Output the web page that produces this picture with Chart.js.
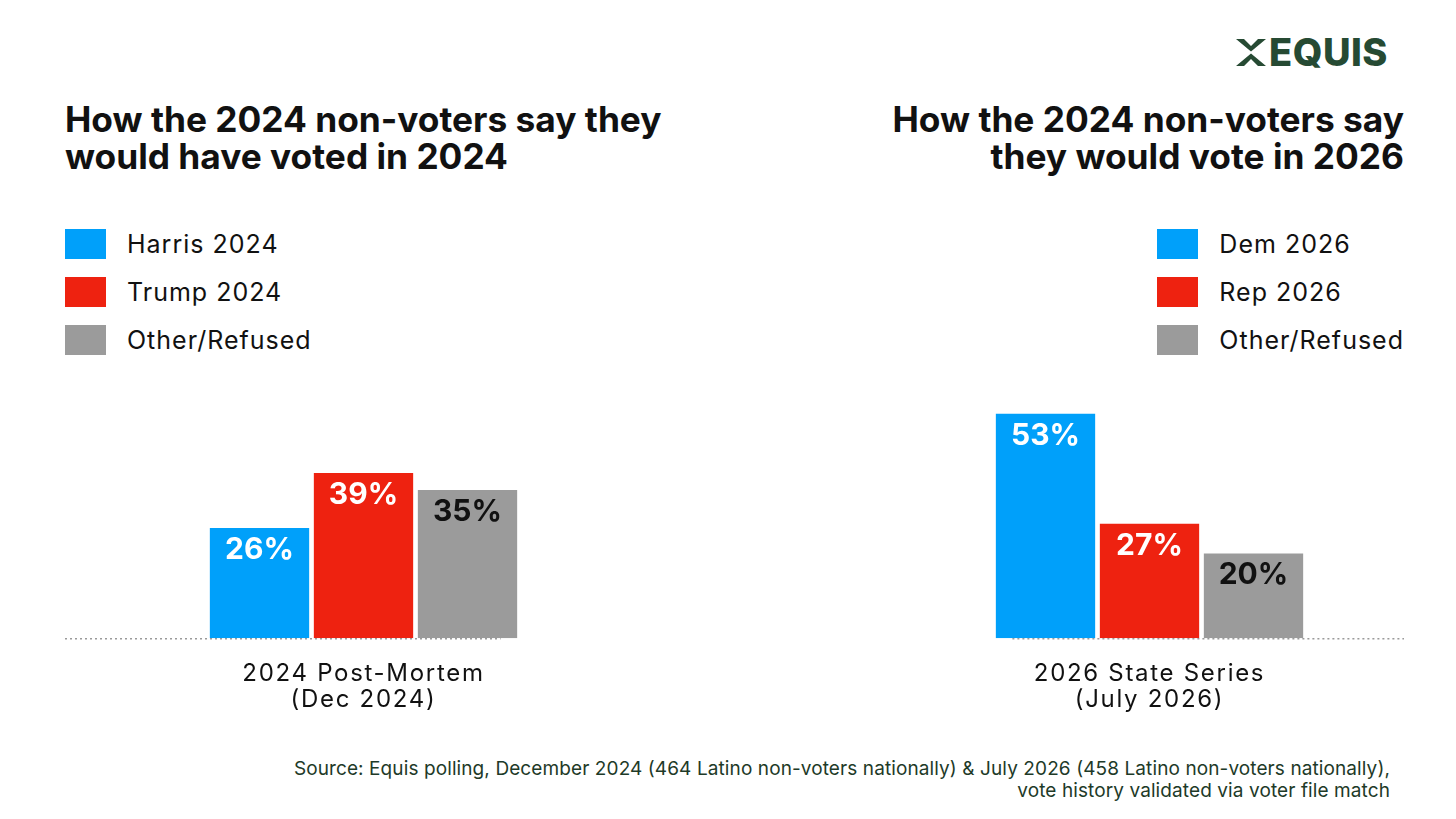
<!DOCTYPE html>
<html>
<head>
<meta charset="utf-8">
<script src="https://cdn.jsdelivr.net/npm/chart.js@4/dist/chart.umd.min.js"></script>
<style>
  html,body{margin:0;padding:0;background:#fff;}
  body{width:1456px;height:819px;position:relative;overflow:hidden;font-family:Inter,"Noto Sans",sans-serif;color:#111;}
  .title{position:absolute;top:101px;font-weight:700;font-size:35.3px;line-height:37px;letter-spacing:0;color:#111;white-space:nowrap;}
  .legend{position:absolute;top:229px;}
  .legend .row{height:48px;display:flex;align-items:flex-start;}
  .legend .sw{width:41px;height:30px;margin-right:21px;}
  .legend .lab{font-size:25px;line-height:30px;letter-spacing:1px;color:#111;white-space:nowrap;}
  .source{position:absolute;right:66px;top:758px;font-size:19px;line-height:22px;text-align:right;color:#1e3a28;letter-spacing:0.1px;white-space:nowrap;}
  .logo{position:absolute;left:1236px;top:33px;display:flex;align-items:center;color:#264a33;}
  .logo span{font-weight:800;font-size:38px;letter-spacing:0.5px;margin-left:3px;line-height:38px;}
  canvas{position:absolute;}
</style>
</head>
<body>
<div class="logo">
  <svg width="30" height="27" viewBox="0 0 30 27"><polygon points="0,0 8,0 15,7 22,0 30,0 15,12.5" fill="#264a33"/><polygon points="0,27 8,27 15,20 22,27 30,27 15,14.5" fill="#264a33"/></svg>
  <span>EQUIS</span>
</div>
<div class="title" id="tL" style="left:65px;"></div>
<div class="title" id="tR" style="right:52px;text-align:right;"></div>
<div class="legend" id="lgL" style="left:65px;"></div>
<div class="legend" id="lgR" style="right:52px;"></div>
<div style="position:absolute;left:65px;top:384px;width:597px;height:343px;"><canvas id="cL"></canvas></div>
<div style="position:absolute;left:895px;top:384px;width:509px;height:343px;"><canvas id="cR"></canvas></div>
<div class="source" id="src"></div>
<script>
// ---- data ----
const leftTitle = ["How the 2024 non-voters say they", "would have voted in 2024"];
const rightTitle = ["How the 2024 non-voters say", "they would vote in 2026"];
const leftCategories = [["2024 Post-Mortem", "(Dec 2024)"]];
const leftSeries = ["Harris 2024", "Trump 2024", "Other/Refused"];
const leftValues = [26, 39, 35];
const rightCategories = [["2026 State Series", "(July 2026)"]];
const rightSeries = ["Dem 2026", "Rep 2026", "Other/Refused"];
const rightValues = [53, 27, 20];
const sourceLines = ["Source: Equis polling, December 2024 (464 Latino non-voters nationally) & July 2026 (458 Latino non-voters nationally),", "vote history validated via voter file match"];

// ---- styles ----
const barColors = ["#00A0FA", "#EE2210", "#9B9B9B"];
const labelColors = ["#ffffff", "#ffffff", "#111111"];

document.getElementById('tL').innerHTML = leftTitle.join('<br>');
document.getElementById('tR').innerHTML = rightTitle.join('<br>');
document.getElementById('src').innerHTML = sourceLines.join('<br>');
function legend(id, names){
  const el = document.getElementById(id);
  names.forEach((n,i)=>{
    const r = document.createElement('div'); r.className='row';
    r.innerHTML = '<div class="sw" style="background:'+barColors[i]+'"></div><div class="lab">'+n+'</div>';
    el.appendChild(r);
  });
}
legend('lgL', leftSeries);
legend('lgR', rightSeries);

const spacing = {
  id:'spacing',
  beforeDraw(chart){ chart.ctx.letterSpacing = '1.7px'; }
};
const valueLabels = {
  id:'valueLabels',
  afterDatasetsDraw(chart){
    const ctx = chart.ctx;
    ctx.save();
    ctx.letterSpacing = '0px';
    ctx.font = '700 30px Inter, "Noto Sans", sans-serif';
    ctx.textAlign = 'center';
    ctx.textBaseline = 'middle';
    chart.data.datasets.forEach((ds,i)=>{
      const meta = chart.getDatasetMeta(i);
      meta.data.forEach((bar,j)=>{
        ctx.fillStyle = labelColors[i];
        ctx.fillText(ds.data[j] + '%', bar.x, bar.y + 22);
      });
    });
    ctx.restore();
  }
};
function baselinePlugin(side){
  return {
    id:'baseline',
    afterDatasetsDraw(chart){
      const ctx = chart.ctx, ca = chart.chartArea;
      const y0 = chart.scales.y.getPixelForValue(0);
      const metas = chart.data.datasets.map((d,i)=>chart.getDatasetMeta(i).data[0]);
      let x1, x2;
      if (side==='left'){ x1 = ca.left; const b = metas[metas.length-1]; x2 = b.x + b.width/3; }
      else { const b = metas[0]; x1 = b.x - b.width/3; x2 = ca.right; }
      ctx.save();
      ctx.strokeStyle = '#9a9a9a';
      ctx.lineWidth = 1.5;
      ctx.setLineDash([2,3]);
      ctx.beginPath();
      ctx.moveTo(x1, y0+0.5); ctx.lineTo(x2, y0+0.5);
      ctx.stroke();
      ctx.restore();
    }
  };
}
function makeChart(id, cats, names, vals, catPct, side){
  return new Chart(document.getElementById(id), {
    type:'bar',
    data:{
      labels: cats,
      datasets: names.map((n,i)=>({label:n, data:[vals[i]], backgroundColor:barColors[i], borderWidth:0}))
    },
    options:{
      responsive:true, maintainAspectRatio:false, animation:false,
      categoryPercentage: catPct, barPercentage: 0.955,
      layout:{padding:0},
      plugins:{legend:{display:false}, tooltip:{enabled:false}, title:{display:false}},
      scales:{
        x:{grid:{display:false}, border:{display:false},
           ticks:{color:'#111', padding:14, font:{family:'Inter, "Noto Sans", sans-serif', size:24, lineHeight:1.1}}},
        y:{display:false, min:0, max:60}
      }
    },
    plugins:[spacing, valueLabels, baselinePlugin(side)]
  });
}
makeChart('cL', leftCategories, leftSeries, leftValues, 312/597, 'left');
makeChart('cR', rightCategories, rightSeries, rightValues, 312/509, 'right');
</script>
</body>
</html>
